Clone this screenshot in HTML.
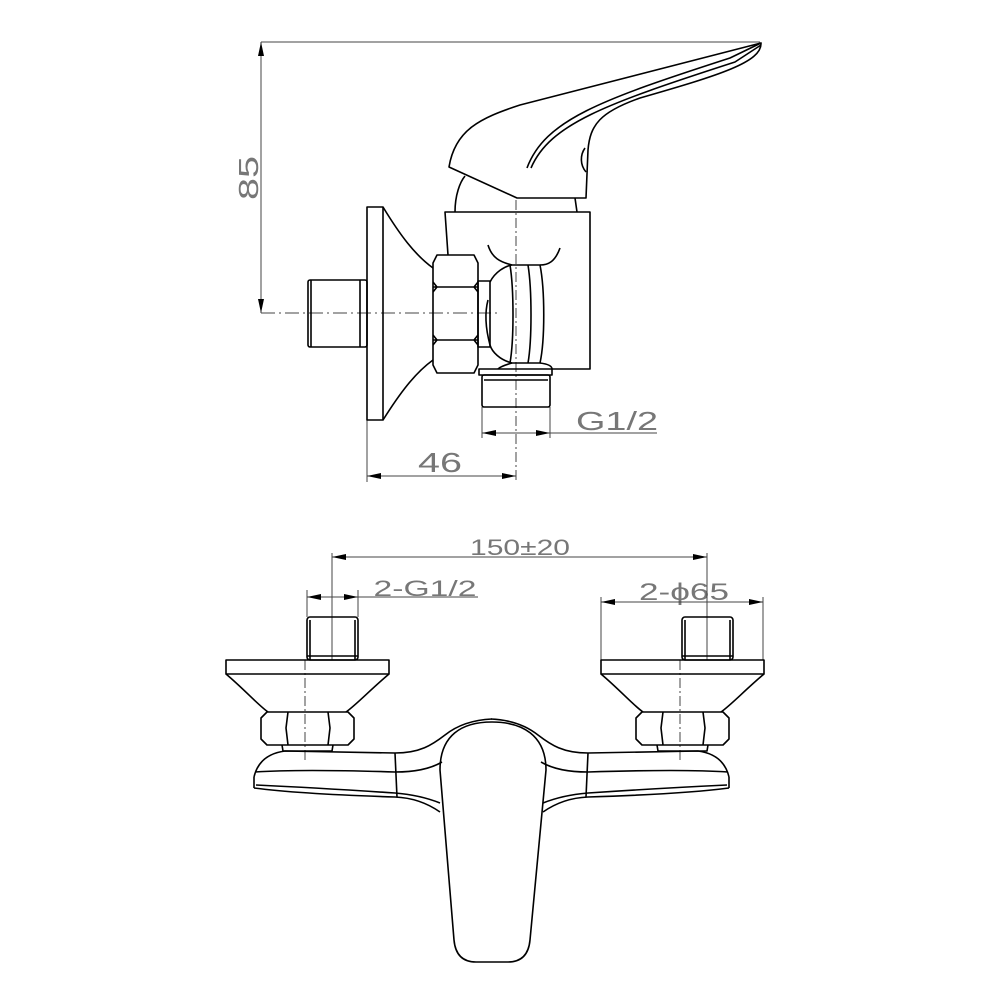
<!DOCTYPE html>
<html><head><meta charset="utf-8"><style>html,body{margin:0;padding:0;background:#fff}svg{display:block}</style></head>
<body>
<svg width="1000" height="1000" viewBox="0 0 1000 1000" xmlns="http://www.w3.org/2000/svg" fill="none" stroke="#000" stroke-width="1.6" stroke-linejoin="round">
<defs>
<marker id="a" viewBox="0 0 14 6" refX="14" refY="3" markerWidth="14" markerHeight="6" orient="auto-start-reverse" markerUnits="userSpaceOnUse"><path d="M0,0 L14,3 L0,6 Z" fill="#000" stroke="none"/></marker>
</defs>
<g font-family="Liberation Sans, sans-serif" fill="#777" stroke="none">
<text x="258" y="178" transform="rotate(-90 258 178)" text-anchor="middle" font-size="28" textLength="44" lengthAdjust="spacingAndGlyphs">85</text>
<text x="440" y="472" text-anchor="middle" font-size="28" textLength="44" lengthAdjust="spacingAndGlyphs">46</text>
<text x="617" y="430" text-anchor="middle" font-size="26" textLength="82" lengthAdjust="spacingAndGlyphs">G1/2</text>
<text x="520" y="555" text-anchor="middle" font-size="22" textLength="100" lengthAdjust="spacingAndGlyphs">150±20</text>
<text x="425" y="596" text-anchor="middle" font-size="22" textLength="103" lengthAdjust="spacingAndGlyphs">2-G1/2</text>
<text x="684" y="600" text-anchor="middle" font-size="24" textLength="90" lengthAdjust="spacingAndGlyphs">2-ϕ65</text>
</g>
<g stroke="#444" stroke-width="1">
<line x1="261" y1="42" x2="760" y2="42"/>
<line x1="261" y1="42" x2="261" y2="313" marker-start="url(#a)" marker-end="url(#a)"/>
<line x1="367" y1="420" x2="367" y2="482"/>
<line x1="367" y1="476" x2="516" y2="476" marker-start="url(#a)" marker-end="url(#a)"/>
<line x1="482" y1="407" x2="482" y2="438"/>
<line x1="550" y1="407" x2="550" y2="438"/>
<line x1="482" y1="433" x2="516" y2="433" marker-start="url(#a)"/>
<line x1="516" y1="433" x2="550" y2="433" marker-end="url(#a)"/>
<line x1="550" y1="433" x2="657" y2="433"/>
<line x1="516" y1="200" x2="516" y2="482" stroke-dasharray="10,3,2,3"/>
<line x1="261" y1="313" x2="500" y2="313" stroke-dasharray="14,4,2,4"/>
<line x1="332" y1="557" x2="707" y2="557" marker-start="url(#a)" marker-end="url(#a)"/>
<line x1="332" y1="553" x2="332" y2="660"/>
<line x1="707" y1="553" x2="707" y2="660"/>
<line x1="307" y1="590" x2="307" y2="617"/>
<line x1="358" y1="590" x2="358" y2="617"/>
<line x1="307" y1="597" x2="332" y2="597" marker-start="url(#a)"/>
<line x1="332" y1="597" x2="358" y2="597" marker-end="url(#a)"/>
<line x1="358" y1="597" x2="478" y2="597"/>
<line x1="601" y1="597" x2="601" y2="660"/>
<line x1="763" y1="597" x2="763" y2="660"/>
<line x1="601" y1="602" x2="763" y2="602" marker-start="url(#a)" marker-end="url(#a)"/>
<line x1="305" y1="660" x2="305" y2="760" stroke-dasharray="10,3,2,3"/>
<line x1="680" y1="660" x2="680" y2="760" stroke-dasharray="10,3,2,3"/>
</g>
<!-- top view -->
<rect x="367" y="207" width="16" height="213"/>
<path d="M383,207 C400,235 415,255 433,268"/>
<path d="M383,420 C400,393 415,373 433,360"/>
<rect x="308" y="280" width="59" height="67" rx="2"/>
<line x1="360" y1="280" x2="360" y2="347"/>
<line x1="311" y1="280" x2="311" y2="347"/>
<path d="M437,255 L474,255 L478,263 L478,365 L474,373 L437,373 L433,365 L433,263 Z"/>
<path d="M433,287 L478,287 M433,340 L478,340 M433,282 L437,287 L433,292 M478,282 L474,287 L478,292 M433,335 L437,340 L433,345 M478,335 L474,340 L478,345"/>
<rect x="478" y="281" width="12" height="66"/>
<path d="M448,255 L445,212 L590,212 L590,369 L552,369"/>
<path d="M490,282 C495,272 505,266 512,265 L540,265 C545,290 545,340 540,363 L512,363 C500,360 492,352 490,345"/>
<path d="M488,300 C484,315 486,330 490,345"/>
<path d="M510,265 C514,290 514,340 510,363 M528,265 C532,290 532,340 528,363"/>
<path d="M488,245 C492,258 500,262 512,265 M560,248 C555,262 548,265 540,265"/>
<path d="M540,363 C548,364 552,366 552,369 M512,363 C505,365 500,367 498,369"/>
<rect x="479" y="369" width="73" height="6"/>
<rect x="482" y="375" width="68" height="32" rx="2"/>
<line x1="484" y1="380" x2="548" y2="380"/>
<path d="M449,167 C455,130 480,118 520,105 L761,43 C762,62 720,75 640,98 C600,112 590,125 588,150 L586,198 L517,198 Z"/>
<path d="M527,168 C545,120 600,100 730,58 L761,43 M531,168 C550,124 605,104 735,62 L761,45"/>
<path d="M585,148 C580,155 580,165 586,172"/>
<path d="M455,212 C455,195 460,182 465,176 M577,212 L575,198"/>
<!-- bottom view -->
<g id="L">
<rect x="307" y="617" width="51" height="43" rx="3"/>
<line x1="310" y1="620" x2="310" y2="660"/><line x1="355" y1="620" x2="355" y2="660"/>
<line x1="307" y1="656" x2="358" y2="656"/>
<rect x="226" y="660" width="163" height="14"/>
<path d="M226,674 C245,690 258,705 268,712 M389,674 C370,690 356,705 346,712"/>
<path d="M267,712 L348,712 L354,718 L354,739 L348,745 L267,745 L261,739 L261,718 Z"/>
<path d="M288,712 L286,728 L288,745 M328,712 L330,728 L328,745"/>
<path d="M282,745 L283,751 L332,751 L333,745"/>
</g>
<use href="#L" transform="translate(375,0)"/>
<g id="B">
<path d="M254,777 C258,760 270,753 285,751 L395,753 C420,753 432,745 445,735 C455,727 470,720 492,719"/>
<path d="M255,772 Q300,769 395,772 Q425,772 442,762"/>
<path d="M254,788 Q300,794 395,797 Q420,798 440,812"/>
<path d="M256,785 Q320,788 395,793 Q420,795 440,803"/>
<path d="M254,777 L254,788 M395,753 L397,797"/>
</g>
<use href="#B" transform="translate(983,0) scale(-1,1)"/>
<path d="M440,770 C440,735 462,722 492,722 C522,722 546,735 546,770 L530,940 Q528,962 508,962 L476,962 Q456,962 454,940 Z"/>
</svg>
</body></html>
